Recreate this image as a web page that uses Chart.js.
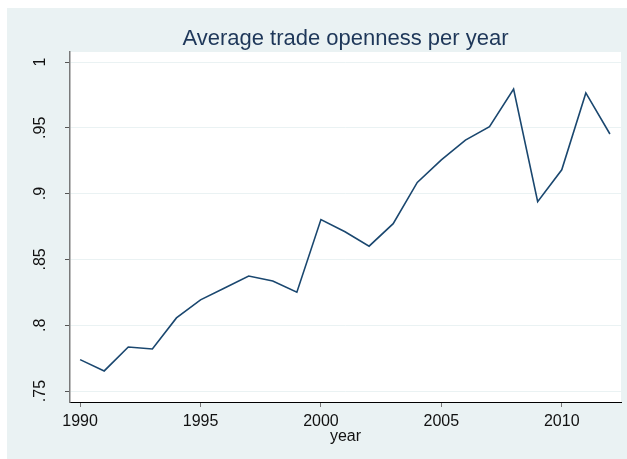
<!DOCTYPE html>
<html>
<head>
<meta charset="utf-8">
<title>Average trade openness per year</title>
<script src="https://cdn.jsdelivr.net/npm/chart.js@4.4.1/dist/chart.umd.min.js"></script>
<style>
    html, body { margin: 0; padding: 0; background: #ffffff; }
    .chart-wrap {
        position: absolute;
        left: 7px;
        top: 8px;
        width: 620px;
        height: 451px;
        background: #eaf2f3;
    }
</style>
</head>
<body>
<div class="chart-wrap">
    <canvas id="chart" width="620" height="451"></canvas>
</div>
<script>
const years = [
    1990, 1991, 1992, 1993, 1994, 1995, 1996, 1997, 1998, 1999, 2000, 2001,
    2002, 2003, 2004, 2005, 2006, 2007, 2008, 2009, 2010, 2011, 2012
];
const openness = [
    0.7739, 0.7653, 0.7835, 0.7820, 0.8056, 0.8193, 0.8283, 0.8374, 0.8336, 0.8251, 0.8803, 0.8710,
    0.8601, 0.8772, 0.9085, 0.9256, 0.9407, 0.9508, 0.9795, 0.8939, 0.9181, 0.9765, 0.9453
];
const xTickValues = [1990, 1995, 2000, 2005, 2010];
const yTickValues = [0.75, 0.8, 0.85, 0.9, 0.95, 1];
const yTickLabels = ['.75', '.8', '.85', '.9', '.95', '1'];

const FONT = "'Liberation Sans', Arial, sans-serif";
const NAVY = '#1a476f';

// 플롯 영역 흰 배경
const plotBackground = {
    id: 'plotBackground',
    beforeDraw(chart) {
        const { ctx, chartArea: a } = chart;
        ctx.save();
        ctx.fillStyle = '#ffffff';
        ctx.fillRect(a.left, a.top, a.right - a.left, a.bottom - a.top);
        ctx.restore();
    }
};

// y축 눈금 라벨(세로 회전)
const verticalYLabels = {
    id: 'verticalYLabels',
    afterDraw(chart) {
        const { ctx } = chart;
        const y = chart.scales.y;
        ctx.save();
        ctx.fillStyle = '#111111';
        ctx.font = '16px ' + FONT;
        ctx.textAlign = 'center';
        ctx.textBaseline = 'alphabetic';
        yTickValues.forEach((v, i) => {
            ctx.save();
            ctx.translate(38, y.getPixelForValue(v));
            ctx.rotate(-Math.PI / 2);
            ctx.fillText(yTickLabels[i], 0, 0);
            ctx.restore();
        });
        ctx.restore();
    }
};

new Chart(document.getElementById('chart'), {
    type: 'line',
    data: {
        datasets: [{
            label: 'openness',
            data: years.map((yr, i) => ({ x: yr, y: openness[i] })),
            borderColor: NAVY,
            borderWidth: 1.6,
            pointRadius: 0,
            tension: 0,
            fill: false
        }]
    },
    options: {
        responsive: false,
        animation: false,
        layout: { padding: { left: 0, right: 6, top: 0, bottom: 0 } },
        plugins: {
            legend: { display: false },
            tooltip: { enabled: false },
            title: {
                display: true,
                text: 'Average trade openness per year',
                color: '#1e3759',
                fullSize: false,
                font: { family: FONT, size: 22, weight: 'normal', lineHeight: 1.1 },
                padding: { top: 19, bottom: 0.8 }
            }
        },
        scales: {
            x: {
                type: 'linear',
                min: 1989.58,
                max: 2012.46,
                afterBuildTicks: (scale) => { scale.ticks = xTickValues.map(v => ({ value: v })); },
                afterFit: (scale) => { scale.height = 57; },
                border: { color: '#000000', width: 1 },
                grid: {
                    drawOnChartArea: false,
                    drawTicks: true,
                    tickLength: 5,
                    tickColor: '#777777'
                },
                ticks: {
                    color: '#111111',
                    font: { family: FONT, size: 16 },
                    padding: 5,
                    maxRotation: 0,
                    callback: (v) => String(v)
                },
                title: {
                    display: true,
                    text: 'year',
                    color: '#111111',
                    font: { family: FONT, size: 16 },
                    padding: { top: 0, bottom: 13 }
                }
            },
            y: {
                type: 'linear',
                min: 0.7417,
                max: 1.0076,
                afterBuildTicks: (scale) => { scale.ticks = yTickValues.map(v => ({ value: v })); },
                afterFit: (scale) => { scale.width = 63; },
                border: { color: '#7a7a7a', width: 1.5 },
                grid: {
                    color: '#eaf2f3',
                    lineWidth: 1,
                    drawTicks: true,
                    tickLength: 5,
                    tickColor: '#555555'
                },
                ticks: { display: false }
            }
        }
    },
    plugins: [plotBackground, verticalYLabels]
});
</script>
</body>
</html>
